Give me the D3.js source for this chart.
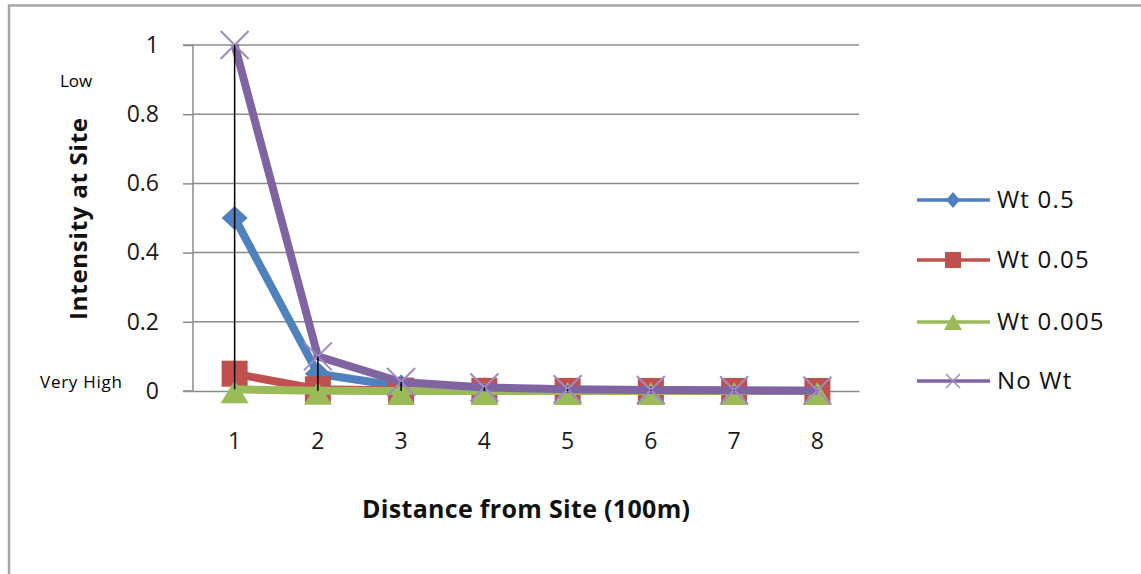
<!DOCTYPE html>
<html><head><meta charset="utf-8">
<script src="https://cdn.jsdelivr.net/npm/d3@7"></script>
<style>body{margin:0;background:#fff}svg{display:block}text{font-family:"Open Sans",sans-serif}</style>
</head><body><svg id="c" width="1141" height="574"></svg>
<script>
const categories = ["1","2","3","4","5","6","7","8"];
const yTicks = [0, 0.2, 0.4, 0.6, 0.8, 1];
const wt05 = [0.5, 0.05, 0.013, 0.005, 0.0024, 0.0013, 0.0008, 0.0005];
const wt005 = [0.05, 0.005, 0.0013, 0.0005, 0.00024, 0.00013, 0.00008, 0.00005];
const wt0005 = [0.005, 0.0005, 0.00013, 0.00005, 0.000024, 0.000013, 0.000008, 0.000005];
const noWt = [1, 0.1, 0.026, 0.01, 0.005, 0.003, 0.002, 0.001];
const seriesNames = ["Wt 0.5", "Wt 0.05", "Wt 0.005", "No Wt"];
const seriesColors = ["#4F81BD", "#C0504D", "#9BBB59", "#8064A2"];
const seriesMarkers = ["diamond", "square", "triangle", "x"];
const seriesValues = [wt05, wt005, wt0005, noWt];

(function(){
const svg = d3.select("#c");
svg.append("path").attr("d","M9,574 V5.5 H1141").attr("fill","none").attr("stroke","#a6a6a6").attr("stroke-width",2.5);

const pL=193, pR=859, pT=45, pB=391;
const x = d3.scaleBand().domain(categories).range([pL,pR]);
const cx = c => x(c) + x.bandwidth()/2;
const y = d3.scaleLinear().domain([0,1]).range([pB,pT]);

svg.append("g").selectAll("line").data(yTicks.filter(t=>t>0)).join("line")
  .attr("x1",pL).attr("x2",pR).attr("y1",d=>y(d)).attr("y2",d=>y(d))
  .attr("stroke","#8c8c8c").attr("stroke-width",1.5);

const yAx = svg.append("g").attr("transform",`translate(${pL},0)`)
  .call(d3.axisLeft(y).tickValues(yTicks).tickFormat(d3.format("~g")).tickSize(10).tickPadding(24));
yAx.select(".domain").attr("stroke","#8c8c8c").attr("stroke-width",1.5).attr("d",`M-10,${pB}H0V${pT}H-10`);
yAx.selectAll(".tick line").attr("stroke","#8c8c8c").attr("stroke-width",1.5);
yAx.selectAll(".tick text").attr("font-size",23).attr("fill","#1a1a1a").attr("font-family","Open Sans");

const xAx = svg.append("g").attr("transform",`translate(0,${pB})`)
  .call(d3.axisBottom(x).tickSize(0).tickPadding(42));
xAx.select(".domain").attr("stroke","#8c8c8c").attr("stroke-width",1.5);
xAx.selectAll(".tick text").attr("font-size",23).attr("fill","#1a1a1a").attr("font-family","Open Sans");

const line = d3.line().x((d,i)=>cx(categories[i])).y(d=>y(d));
function marker(g, type, color, px, py){
  if(type==="diamond"){
    g.append("path").attr("d",`M${px},${py-12}L${px+13},${py}L${px},${py+12}L${px-13},${py}Z`).attr("fill",color);
  } else if(type==="square"){
    g.append("rect").attr("x",px-13).attr("y",py-13).attr("width",26).attr("height",26).attr("fill",color);
  } else if(type==="triangle"){
    g.append("path").attr("d",`M${px},${py-9}L${px+14},${py+14}L${px-14},${py+14}Z`).attr("fill",color);
  } else {
    g.append("path").attr("d",`M${px-14},${py-14}L${px+14},${py+14}M${px+14},${py-14}L${px-14},${py+14}`)
      .attr("stroke","#9f8bc4").attr("stroke-width",2);
  }
}
seriesValues.forEach((vals,s)=>{
  const g = svg.append("g");
  g.append("path").datum(vals).attr("d",line).attr("fill","none")
    .attr("stroke",seriesColors[s]).attr("stroke-width",8).attr("stroke-linejoin","round");
  vals.forEach((v,i)=>marker(g, seriesMarkers[s], seriesColors[s], cx(categories[i]), y(v)));
});

svg.append("g").selectAll("line").data(categories).join("line")
  .attr("x1",d=>cx(d)).attr("x2",d=>cx(d))
  .attr("y1",(d,i)=>y(d3.max(seriesValues,v=>v[i])))
  .attr("y2",(d,i)=>y(d3.min(seriesValues,v=>v[i])))
  .attr("stroke","#000").attr("stroke-width",1.5);

svg.append("text").attr("transform","translate(87,219) rotate(-90)").attr("text-anchor","middle")
  .attr("font-size",24).attr("font-weight","bold").attr("fill","#111")
  .attr("textLength",202).attr("lengthAdjust","spacing").text("Intensity at Site");
svg.append("text").attr("x",526).attr("y",518).attr("text-anchor","middle")
  .attr("font-size",25).attr("font-weight","bold").attr("fill","#111")
  .attr("textLength",328).attr("lengthAdjust","spacing").text("Distance from Site (100m)");

svg.append("text").attr("x",60).attr("y",87).attr("font-size",17).attr("fill","#000").text("Low");
svg.append("text").attr("x",40).attr("y",388).attr("font-size",17).attr("fill","#000")
  .attr("textLength",82).attr("lengthAdjust","spacing").text("Very High");

const leg = svg.append("g");
const legY = [200, 260, 322, 381];
seriesNames.forEach((n,s)=>{
  const g = leg.append("g");
  const ly = legY[s];
  g.append("line").attr("x1",917).attr("x2",990).attr("y1",ly).attr("y2",ly)
    .attr("stroke",seriesColors[s]).attr("stroke-width",3.5);
  if(s===0) g.append("path").attr("d",`M953,${ly-8}L960,${ly}L953,${ly+8}L946,${ly}Z`).attr("fill",seriesColors[s]);
  if(s===1) g.append("rect").attr("x",945).attr("y",ly-8).attr("width",16).attr("height",16).attr("fill",seriesColors[s]);
  if(s===2) g.append("path").attr("d",`M953,${ly-8}L962,${ly+8}L944,${ly+8}Z`).attr("fill",seriesColors[s]);
  if(s===3) g.append("path").attr("d",`M946,${ly-7}L960,${ly+7}M960,${ly-7}L946,${ly+7}`).attr("stroke","#9f8bc4").attr("stroke-width",1.5);
  g.append("text").attr("x",997).attr("y",ly+8).attr("font-size",24).attr("letter-spacing",1.2)
    .attr("fill","#111").text(n);
});
})();
</script></body></html>
